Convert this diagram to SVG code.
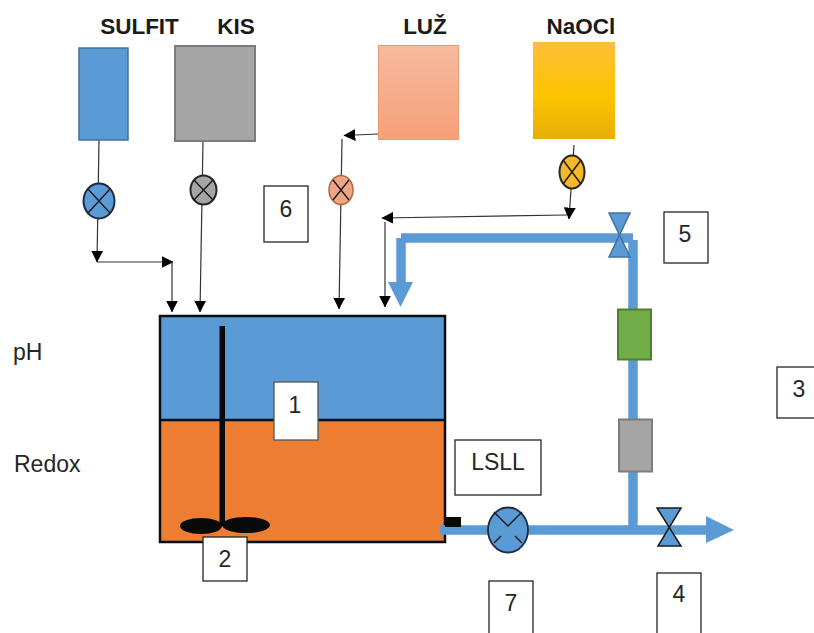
<svg xmlns="http://www.w3.org/2000/svg" width="814" height="633" viewBox="0 0 814 633">
<style>
text{font-family:"Liberation Sans",Arial,sans-serif;fill:#262626}
.t{font-size:22.500px;font-weight:bold;fill:#1a1a1a;text-anchor:middle}
.l{font-size:23px}
.n{font-size:23px;text-anchor:middle}
.box{fill:#fff;stroke:#262626;stroke-width:1.3}
.thin{fill:none;stroke:#333;stroke-width:1.2}
.pipe{fill:none;stroke:#5b9bd5;stroke-width:9.500}
.vx{fill:none;stroke:#1a1a1a;stroke-width:1.4}
</style>
<defs>
<marker id="a" viewBox="0 0 10 10" refX="9.500" refY="5" markerWidth="12" markerHeight="12" markerUnits="userSpaceOnUse" orient="auto"><path d="M0,0L10,5L0,10z" fill="#000"/></marker>
<linearGradient id="gl" x1="0" y1="0" x2="0" y2="1"><stop offset="0" stop-color="#f6bb9f"/><stop offset="1" stop-color="#f79f78"/></linearGradient>
<linearGradient id="gn" x1="0" y1="0" x2="0" y2="1"><stop offset="0" stop-color="#fdbf38"/><stop offset=".55" stop-color="#fcc400"/><stop offset="1" stop-color="#e6ae05"/></linearGradient>
</defs>
<g id="connectors">
<path class="thin" d="M99,140L97,262" marker-end="url(#a)"/>
<path class="thin" d="M97,262H173" marker-end="url(#a)"/>
<path class="thin" d="M172,262V312" marker-end="url(#a)"/>
<path class="thin" d="M203,141L200,312" marker-end="url(#a)"/>
<path class="thin" d="M378,134L344,135.500" marker-end="url(#a)"/>
<path class="thin" d="M342,139L339,309" marker-end="url(#a)"/>
<path class="thin" d="M574,145L569,219" marker-end="url(#a)"/>
<path class="thin" d="M567,215L382,218" marker-end="url(#a)"/>
<path class="thin" d="M385,222V307" marker-end="url(#a)"/>
</g>
<g id="tank">
<rect x="160" y="316" width="285" height="104" fill="#5b9bd5"/>
<rect x="160" y="420" width="285" height="122" fill="#ed7d31"/>
<path d="M160,316H445V542H160ZM160,420H445" fill="none" stroke="#0c0c14" stroke-width="2.500"/>
</g>
<g id="agitator">
<rect x="219.500" y="326" width="5.500" height="200" fill="#0a0a0a"/>
<ellipse cx="201" cy="526" rx="21" ry="8" fill="#0a0a0a"/>
<ellipse cx="246" cy="525" rx="24" ry="8" fill="#0a0a0a"/>
</g>
<g id="pipes">
<path class="pipe" d="M401,238H633"/>
<path class="pipe" d="M633,240V530"/>
<path class="pipe" d="M401,238V285"/>
<path d="M388,282H413L400.500,307Z" fill="#5b9bd5"/>
<path class="pipe" d="M440,530H708"/>
<path d="M706,516L734,530L706,543Z" fill="#5b9bd5"/>
<rect x="445" y="517" width="16" height="10" fill="#0a0a0a"/>
</g>
<g id="tank-sulfit"><rect x="79" y="48" width="49" height="92" fill="#5b9bd5" stroke="#41719c" stroke-width="1.500"/><text class="t" x="139.500" y="34">SULFIT</text></g>
<g id="tank-kis"><rect x="175" y="46" width="80" height="95" fill="#a5a5a5" stroke="#7c7c7c" stroke-width="2"/><text class="t" x="236" y="34">KIS</text></g>
<g id="tank-luz"><rect x="378.500" y="45.500" width="80" height="94" fill="url(#gl)" stroke="#e89a75"/><text class="t" x="425" y="34">LUŽ</text></g>
<g id="tank-naocl"><rect x="533" y="42" width="82" height="97" fill="url(#gn)"/><text class="t" x="581" y="34">NaOCl</text></g>
<g id="valve-sulfit"><ellipse cx="99" cy="201" rx="15.500" ry="17.500" fill="#5b9bd5" stroke="#1f2a44" stroke-width="2"/><path class="vx" d="M88,189L110,213M110,189L88,213"/></g>
<g id="valve-kis"><ellipse cx="203.500" cy="190" rx="13" ry="14.500" fill="#a5a5a5" stroke="#262626" stroke-width="2"/><path class="vx" d="M194,180L213,200M213,180L194,200"/></g>
<g id="valve-luz"><ellipse cx="341" cy="190" rx="12" ry="14.500" fill="#eda684" stroke="#b5653f" stroke-width="1.500"/><path class="vx" d="M333,180L349,200M349,180L333,200" stroke="#7a4a30"/></g>
<g id="valve-naocl"><ellipse cx="572" cy="172" rx="12.500" ry="16.500" fill="#f4b62a" stroke="#262626" stroke-width="2"/><path class="vx" d="M563,160L581,184M581,160L563,184"/></g>
<g id="valve-5"><path d="M609,213H630L609,257H630Z" fill="#5b9bd5" stroke="#41719c" stroke-width="1.500"/></g>
<g id="valve-4"><path d="M657,508H681L658,546H681Z" fill="#5b9bd5" stroke="#1a1a1a" stroke-width="1.500"/></g>
<g id="filter-green"><rect x="618" y="309.500" width="33" height="50" fill="#70ad47" stroke="#507e32" stroke-width="2"/></g>
<g id="filter-gray"><rect x="619" y="419.500" width="33" height="52" fill="#a5a5a5" stroke="#7c7c7c" stroke-width="2"/></g>
<g id="pump"><ellipse cx="508" cy="530" rx="20" ry="22.500" fill="#5b9bd5" stroke="#1f2a44" stroke-width="1.800"/><path class="vx" d="M494,512L508,526L522,512M494,543L501,536M522,543L515,536"/></g>
<g id="label-1"><rect class="box" x="274" y="382" width="44" height="58" style="stroke:#555"/><text class="n" x="295" y="413">1</text></g>
<g id="label-2"><rect class="box" x="203" y="537" width="44" height="44"/><text class="n" x="225" y="567">2</text></g>
<g id="label-3"><rect class="box" x="777" y="367" width="44" height="51"/><text class="n" x="799" y="397">3</text></g>
<g id="label-4"><rect class="box" x="657" y="573" width="44" height="64"/><text class="n" x="679" y="602">4</text></g>
<g id="label-5"><rect class="box" x="664" y="212" width="44" height="51"/><text class="n" x="685" y="242">5</text></g>
<g id="label-6"><rect class="box" x="264" y="186" width="44" height="56"/><text class="n" x="286" y="217">6</text></g>
<g id="label-7"><rect class="box" x="489" y="581" width="44" height="56"/><text class="n" x="511" y="611">7</text></g>
<g id="label-lsll"><rect class="box" x="455" y="440" width="86" height="55"/><text class="n" x="498" y="470">LSLL</text></g>
<text class="l" x="13" y="360">pH</text>
<text class="l" x="14" y="472">Redox</text>
</svg>
